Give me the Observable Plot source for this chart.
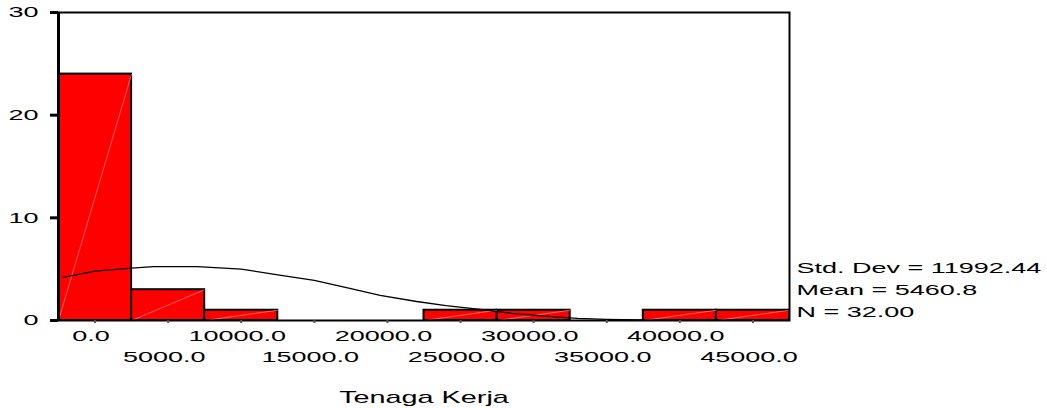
<!DOCTYPE html>
<html><head><meta charset="utf-8">
<script src="https://cdn.jsdelivr.net/npm/d3@7"></script>
<script src="https://cdn.jsdelivr.net/npm/@observablehq/plot@0.6"></script>
<style>body{margin:0;background:#fff}</style>
</head><body><div id="chart"></div>
<script>
// Histogram bins (centers) and counts
const binCenters = [0, 5000, 10000, 15000, 20000, 25000, 30000, 35000, 40000, 45000];
const counts = [24, 3, 1, 0, 0, 1, 1, 0, 1, 1];
const binWidth = 5000;
const yTicks = [0, 10, 20, 30];
const xTickLabels = ["0.0", "5000.0", "10000.0", "15000.0", "20000.0", "25000.0", "30000.0", "35000.0", "40000.0", "45000.0"];
// Normal curve
const curveX = [-2200, 0, 2500, 4000, 7000, 10000, 12500, 15000, 17500, 19500, 22000, 24000, 26500, 28500, 31000, 33000, 35000, 37500];
const curveY = [4.2, 4.8, 5.1, 5.25, 5.25, 5.0, 4.45, 3.9, 3.1, 2.45, 1.85, 1.45, 1.05, 0.7, 0.4, 0.2, 0.1, 0.05];
const statLabels = ["Std. Dev", "Mean", "N"];
const statValues = ["11992.44", "5460.8", "32.00"];
const axisTitle = "Tenaga Kerja";

const bins = binCenters.map((c, i) => ({x1: c - binWidth / 2, x2: c + binWidth / 2, count: counts[i]})).filter(d => d.count > 0);
const curve = curveX.map((x, i) => ({x, y: curveY[i]}));
const ticks = binCenters.map((c, i) => ({x: c, label: xTickLabels[i], row: i % 2}));
const stats = statLabels.map((l, i) => `${l} = ${statValues[i]}`).join("\n");

const plot = Plot.plot({
  width: 1047, height: 408,
  marginLeft: 58, marginRight: 258, marginTop: 12, marginBottom: 88,
  x: {domain: [-2500, 47500], axis: null},
  y: {domain: [0, 30], axis: null},
  style: {fontFamily: "'Liberation Sans', Arial, sans-serif", fontSize: "15px", color: "black", background: "white", overflow: "visible"},
  marks: [
    Plot.rectY(bins, {x1: "x1", x2: "x2", y: "count", fill: "#ff0000", stroke: "black", strokeWidth: 2}),
    Plot.link(bins, {x1: "x1", y1: () => 0, x2: "x2", y2: "count", stroke: "#ff8c8c", strokeWidth: 0.7}),
    Plot.line(curve, {x: "x", y: "y", stroke: "black", strokeWidth: 1.3}),
    Plot.frame({stroke: "black", strokeWidth: 2}),
    Plot.ruleX([-2500], {stroke: "black", strokeWidth: 3}),
    Plot.axisY({ticks: yTicks, tickSize: 8, tickPadding: 12, strokeWidth: 3, label: null, fontSize: 15}),
    Plot.axisX({ticks: binCenters, tickSize: 3, tickFormat: () => "", label: null, stroke: "#555", strokeWidth: 2}),
    Plot.text(ticks.filter(d => d.row === 0), {x: "x", text: "label", frameAnchor: "bottom", dx: -4, dy: 16, lineAnchor: "middle", fill: "black"}),
    Plot.text(ticks.filter(d => d.row === 1), {x: "x", text: "label", frameAnchor: "bottom", dx: -4, dy: 37, lineAnchor: "middle", fill: "black"}),
    Plot.text([stats], {frameAnchor: "bottom-right", dx: 7, dy: -4, textAnchor: "start", lineAnchor: "bottom", lineHeight: 1.45, fill: "black"}),
    Plot.text([axisTitle], {frameAnchor: "bottom", dy: 77, fontSize: 16, lineAnchor: "middle", fill: "black"})
  ]
});

// The reference text is horizontally stretched; mimic by scaling each text around its anchor
const S = 1.8;
plot.querySelectorAll("text").forEach(t => {
  const x = +t.getAttribute("x") || 0;
  const tr = t.getAttribute("transform") || "";
  t.setAttribute("transform", `${tr} translate(${x},0) scale(${S},1) translate(${-x},0)`);
});
document.getElementById("chart").appendChild(plot);
</script>
</body></html>
